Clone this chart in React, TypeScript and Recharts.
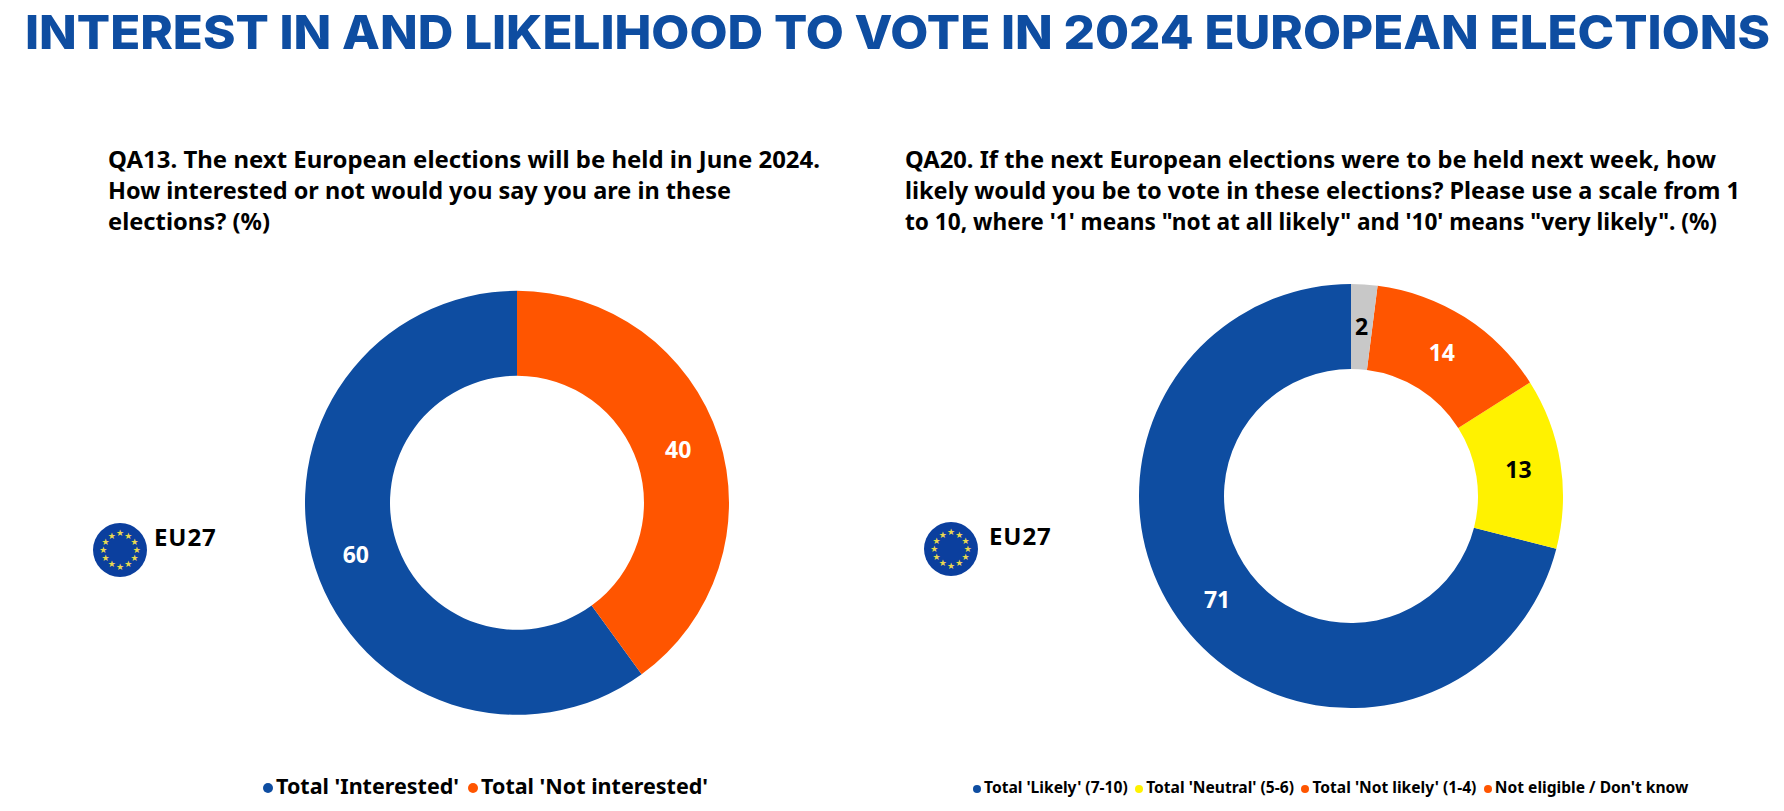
import React from "react";
import { PieChart, Pie, Cell, Legend } from "recharts";

const titleText = "INTEREST IN AND LIKELIHOOD TO VOTE IN 2024 EUROPEAN ELECTIONS";

const interestQuestion = [
  "QA13. The next European elections will be held in June 2024.",
  "How interested or not would you say you are in these",
  "elections? (%)",
];
const voteQuestion = [
  "QA20. If the next European elections were to be held next week, how",
  "likely would you be to vote in these elections? Please use a scale from 1",
  "to 10, where '1' means \"not at all likely\" and '10' means \"very likely\". (%)",
];

const interestNames = ["Total 'Interested'", "Total 'Not interested'"];
const interestValues = [60, 40];
const interestColors = ["#0e4da1", "#ff5500"];
const interestLabelColors = ["#ffffff", "#ffffff"];

const voteNames = [
  "Total 'Likely' (7-10)",
  "Total 'Neutral' (5-6)",
  "Total 'Not likely' (1-4)",
  "Not eligible / Don't know",
];
const voteValues = [71, 13, 14, 2];
const voteColors = ["#0e4da1", "#fff200", "#ff5500", "#c8c8c8"];
const voteLabelColors = ["#ffffff", "#000000", "#ffffff", "#000000"];
// the source legend uses orange for the last bullet too
const voteLegendColors = ["#0e4da1", "#fff200", "#ff5500", "#ff5500"];

const areaLabel = "EU27";
const FONT = "'Noto Sans', sans-serif";
const RADIAN = Math.PI / 180;
const starAngles = [0, 30, 60, 90, 120, 150, 180, 210, 240, 270, 300, 330];

// widths measured on the reference, the fonts differ so lines get fitted
const interestLineWidths = [712, 623, 162];
const voteLineWidths = [811, 835, 812];
const lineBaselines = [168, 199, 230];

const toRows = (names: string[], values: number[]) =>
  names.map((name, i) => ({ name, value: values[i] }));

const sliceLabel = (colors: string[]) => (props: any) => {
  const { cx, cy, midAngle, innerRadius, outerRadius, index, value } = props;
  const r = (innerRadius + outerRadius) / 2;
  return (
    <text
      x={cx + r * Math.cos(-midAngle * RADIAN)}
      y={cy + r * Math.sin(-midAngle * RADIAN) - 1}
      fill={colors[index]}
      textAnchor="middle"
      dominantBaseline="central"
      fontFamily={FONT}
      fontWeight={700}
      fontSize={23}
    >
      {value}
    </text>
  );
};

const LegendRow = ({ names, colors, fontSize, dot, gap }: any) => (
  <div style={{ display: "flex", whiteSpace: "nowrap", fontFamily: FONT, fontWeight: 700, fontSize, color: "#000", alignItems: "center", gap }}>
    {names.map((name: string, i: number) => (
      <span key={name} style={{ display: "flex", alignItems: "center" }}>
        <span style={{ width: dot, height: dot, borderRadius: "50%", background: colors[i], marginRight: 3, marginTop: 4 }} />
        {name}
      </span>
    ))}
  </div>
);

const Flag = ({ left, top }: { left: number; top: number }) => (
  <svg width={54} height={54} viewBox="-27 -27 54 54" style={{ position: "absolute", left, top }}>
    <circle r={27} fill="#0b3f9e" />
    {starAngles.map((a) => (
      <text
        key={a}
        x={16.7 * Math.cos(a * RADIAN)}
        y={16.7 * Math.sin(a * RADIAN)}
        fill="#e9d94f"
        fontSize={9}
        fontFamily="'DejaVu Sans'"
        textAnchor="middle"
        dominantBaseline="central"
      >
        ★
      </text>
    ))}
  </svg>
);

const Question = ({ lines, widths, x }: { lines: string[]; widths: number[]; x: number }) => (
  <>
    {lines.map((l, i) => (
      <text
        key={l}
        x={x}
        y={lineBaselines[i]}
        textLength={widths[i]}
        lengthAdjust="spacingAndGlyphs"
        fontFamily={FONT}
        fontWeight={700}
        fontSize={24}
        fill="#000"
      >
        {l}
      </text>
    ))}
  </>
);

const Donut = ({ left, cx, cy, names, values, colors, labelColors, legend, legendLeft, legendTop }: any) => (
  <div style={{ position: "absolute", left, top: 0 }}>
    <PieChart width={892} height={811} margin={{ top: 0, right: 0, bottom: 0, left: 0 }}>
      <Pie
        data={toRows(names, values)}
        dataKey="value"
        nameKey="name"
        cx={cx}
        cy={cy}
        innerRadius={127}
        outerRadius={212}
        startAngle={90}
        endAngle={450}
        stroke="none"
        label={sliceLabel(labelColors)}
        labelLine={false}
        isAnimationActive={false}
      >
        {names.map((n: string, i: number) => (
          <Cell key={n} fill={colors[i]} />
        ))}
      </Pie>
      <Legend
        content={() => legend}
        wrapperStyle={{ left: legendLeft, top: legendTop, width: "auto", bottom: "auto" }}
      />
    </PieChart>
  </div>
);

const areaStyle = { position: "absolute", fontFamily: FONT, fontWeight: 700, fontSize: 24, letterSpacing: 0.9, lineHeight: "30px", whiteSpace: "nowrap" } as const;

export default function App() {
  return (
    <div style={{ position: "absolute", left: 0, top: 0, width: 1784, height: 811, background: "#fff", overflow: "hidden" }}>
      <svg width={1784} height={240} style={{ position: "absolute", left: 0, top: 0 }}>
        <text
          x={25}
          y={49}
          textLength={1745}
          lengthAdjust="spacingAndGlyphs"
          fontFamily="Inter, sans-serif"
          fontWeight={800}
          fontSize={47}
          fill="#0e4da1"
        >
          {titleText}
        </text>
        <Question lines={interestQuestion} widths={interestLineWidths} x={108} />
        <Question lines={voteQuestion} widths={voteLineWidths} x={905} />
      </svg>
      <Donut
        left={0}
        cx={517}
        cy={502.8}
        names={interestNames}
        values={interestValues}
        colors={interestColors}
        labelColors={interestLabelColors}
        legendLeft={263}
        legendTop={771}
        legend={<LegendRow names={interestNames} colors={interestColors} fontSize={21.5} dot={10} gap={9} />}
      />
      <Donut
        left={892}
        cx={459}
        cy={496.1}
        names={voteNames}
        values={voteValues}
        colors={voteColors}
        labelColors={voteLabelColors}
        legendLeft={81}
        legendTop={776}
        legend={<LegendRow names={voteNames} colors={voteLegendColors} fontSize={15.6} dot={8} gap={7.5} />}
      />
      <Flag left={93} top={523} />
      <div style={{ ...areaStyle, left: 154, top: 522 }}>{areaLabel}</div>
      <Flag left={924} top={522} />
      <div style={{ ...areaStyle, left: 989, top: 521 }}>{areaLabel}</div>
    </div>
  );
}
